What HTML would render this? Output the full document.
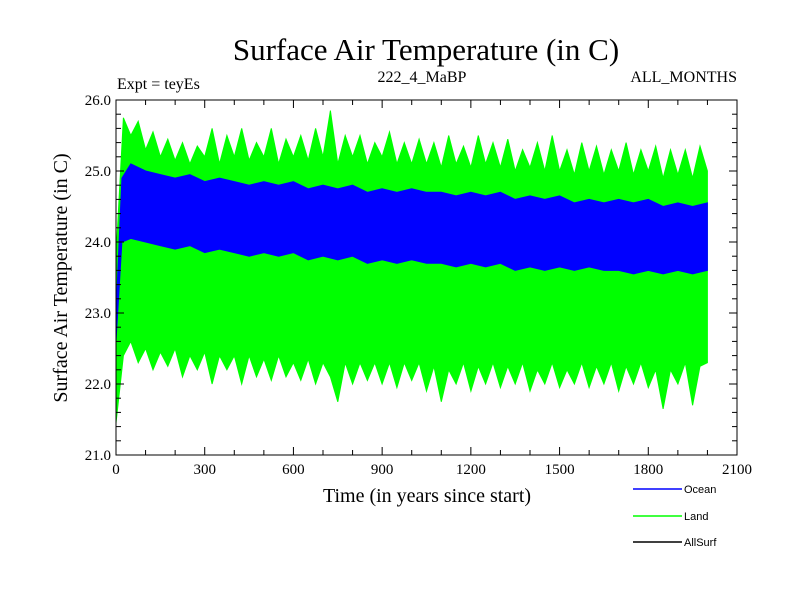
<!DOCTYPE html>
<html><head><meta charset="utf-8"><style>
body{margin:0;background:#fff}
svg text{font-family:"Liberation Serif",serif;fill:#000}
</style></head><body>
<svg id="chart" width="800" height="600" xmlns="http://www.w3.org/2000/svg">
<rect width="800" height="600" fill="#fff"/>
<text x="426" y="60" font-size="31" text-anchor="middle">Surface Air Temperature (in C)</text>
<text x="117" y="89" font-size="16">Expt = teyEs</text>
<text x="422" y="82" font-size="16" text-anchor="middle">222_4_MaBP</text>
<text x="737" y="82" font-size="16" text-anchor="end">ALL_MONTHS</text>
<text transform="translate(67,278) rotate(-90)" font-size="20" text-anchor="middle">Surface Air Temperature (in C)</text>
<text x="427" y="502" font-size="20" text-anchor="middle">Time (in years since start)</text>
<g id="plot"></g>
<g id="axes"></g>
<g font-family="Liberation Sans,sans-serif">
<line x1="633" y1="489" x2="682" y2="489" stroke="#0000ff" stroke-width="1.5"/>
<text x="684" y="493" font-size="11" style="font-family:'Liberation Sans',sans-serif">Ocean</text>
<line x1="633" y1="516" x2="682" y2="516" stroke="#00ff00" stroke-width="1.5"/>
<text x="684" y="520" font-size="11" style="font-family:'Liberation Sans',sans-serif">Land</text>
<line x1="633" y1="542" x2="682" y2="542" stroke="#000" stroke-width="1.5"/>
<text x="684" y="546" font-size="11" style="font-family:'Liberation Sans',sans-serif">AllSurf</text>
</g>
</svg>
<script>
const xTicks=[0,300,600,900,1200,1500,1800,2100];
const yTicks=["21.0","22.0","23.0","24.0","25.0","26.0"];
const landUpper=[23.8,25.75,25.5,25.7,25.3,25.55,25.2,25.45,25.15,25.4,25.1,25.35,25.2,25.6,25.1,25.5,25.2,25.6,25.15,25.4,25.2,25.6,25.1,25.45,25.2,25.5,25.15,25.6,25.2,25.85,25.1,25.5,25.2,25.5,25.1,25.4,25.2,25.55,25.1,25.4,25.1,25.45,25.1,25.4,25.05,25.5,25.1,25.35,25.05,25.5,25.1,25.4,25.05,25.45,25.0,25.3,25.05,25.4,25.0,25.5,25.0,25.3,24.95,25.4,25.0,25.35,24.95,25.3,25.0,25.4,24.95,25.3,25.0,25.35,24.9,25.3,24.95,25.3,24.9,25.35,25.0];
const landLower=[21.45,22.4,22.6,22.3,22.5,22.2,22.45,22.25,22.5,22.1,22.4,22.2,22.45,22.0,22.4,22.2,22.4,22.0,22.4,22.1,22.35,22.05,22.4,22.1,22.3,22.05,22.35,22.0,22.3,22.1,21.75,22.3,22.0,22.3,22.05,22.3,22.0,22.3,21.95,22.3,22.05,22.3,21.9,22.25,21.75,22.2,22.0,22.3,21.9,22.25,22.0,22.3,21.95,22.25,22.0,22.3,21.9,22.2,22.0,22.3,21.95,22.2,22.0,22.3,21.95,22.25,22.0,22.3,21.9,22.25,22.0,22.3,21.95,22.2,21.65,22.2,22.0,22.3,21.7,22.25,22.3];
const oceanYears=[0,20,50,100,150,200,250,300,350,400,450,500,550,600,650,700,750,800,850,900,950,1000,1050,1100,1150,1200,1250,1300,1350,1400,1450,1500,1550,1600,1650,1700,1750,1800,1850,1900,1950,2000];
const oceanUpper=[23.0,24.9,25.1,25.0,24.95,24.9,24.95,24.85,24.9,24.85,24.8,24.85,24.8,24.85,24.75,24.8,24.75,24.8,24.7,24.75,24.7,24.75,24.7,24.7,24.65,24.7,24.65,24.7,24.6,24.65,24.6,24.65,24.55,24.6,24.55,24.6,24.55,24.6,24.5,24.55,24.5,24.55];
const oceanLower=[22.6,24.0,24.05,24.0,23.95,23.9,23.95,23.85,23.9,23.85,23.8,23.85,23.8,23.85,23.75,23.8,23.75,23.8,23.7,23.75,23.7,23.75,23.7,23.7,23.65,23.7,23.65,23.7,23.6,23.65,23.6,23.65,23.6,23.65,23.6,23.6,23.55,23.6,23.55,23.6,23.55,23.6];
const X0=116,X1=737,Y0=455,Y1=100;
const xs=v=>X0+(v/2100)*(X1-X0);
const ys=v=>Y0-(v-21)/5*(Y0-Y1);
const NS="http://www.w3.org/2000/svg";
const plot=document.getElementById('plot'),axes=document.getElementById('axes');
function band(yrs,up,lo,color,name){
  let pts=[];
  for(let i=0;i<up.length;i++)pts.push(xs(yrs[i]).toFixed(1)+","+ys(up[i]).toFixed(1));
  for(let i=lo.length-1;i>=0;i--)pts.push(xs(yrs[i]).toFixed(1)+","+ys(lo[i]).toFixed(1));
  const p=document.createElementNS(NS,'polygon');
  p.setAttribute('points',pts.join(' '));
  p.setAttribute('fill',color);p.setAttribute('stroke',color);p.setAttribute('stroke-width','1');
  
  
  plot.appendChild(p);
}
const landYears=landUpper.map((_,i)=>i*25);
band(landYears,landUpper,landLower,'#00ff00','land-series');
band(oceanYears,oceanUpper,oceanLower,'#0000ff','ocean-series');
function ln(x1,y1,x2,y2,name){
  const l=document.createElementNS(NS,'line');
  l.setAttribute('x1',x1);l.setAttribute('y1',y1);l.setAttribute('x2',x2);l.setAttribute('y2',y2);
  l.setAttribute('stroke','#000');l.setAttribute('stroke-width','1');
  
  
  axes.appendChild(l);
}
function tx(x,y,s,anchor,name){
  const t=document.createElementNS(NS,'text');
  t.setAttribute('x',x);t.setAttribute('y',y);t.setAttribute('font-size','15');t.setAttribute('text-anchor',anchor);
  t.textContent=s;
  
  
  axes.appendChild(t);
}
const fr=document.createElementNS(NS,'rect');
fr.setAttribute('x',X0);fr.setAttribute('y',Y1);fr.setAttribute('width',X1-X0);fr.setAttribute('height',Y0-Y1);
fr.setAttribute('fill','none');fr.setAttribute('stroke','#000');


axes.appendChild(fr);
for(let v=0;v<=2100;v+=100){
  const x=xs(v),L=(v%300===0)?8:5;
  ln(x,Y0,x,Y0-L,'x-tick');ln(x,Y1,x,Y1+L,'x-tick-top');
}
xTicks.forEach(v=>tx(xs(v),Y0+19,String(v),'middle','x-tick-label'));
for(let i=0;i<=25;i++){
  const v=21+i*0.2,y=ys(v),L=(i%5===0)?8:5;
  ln(X0,y,X0+L,y,'y-tick');ln(X1,y,X1-L,y,'y-tick-right');
}
yTicks.forEach(s=>tx(X0-5,ys(parseFloat(s))+5,s,'end','y-tick-label'));
</script>
</body></html>
